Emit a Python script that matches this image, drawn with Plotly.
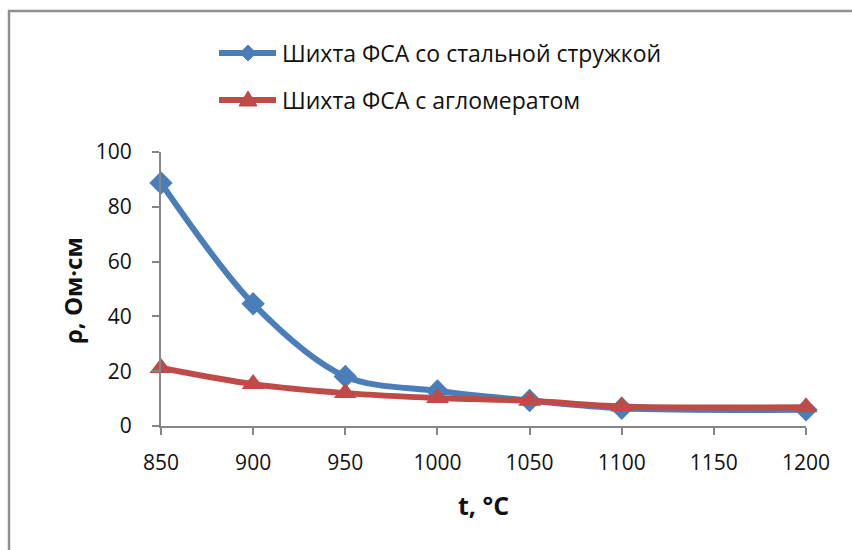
import plotly.graph_objects as go

# Temperature, °C
temperature = [850, 900, 950, 1000, 1050, 1100, 1200]
# Resistivity, Ohm·cm
rho_steel_chips = [88.7, 44.6, 18.1, 12.8, 9.3, 6.5, 5.9]
rho_agglomerate = [21.2, 15.3, 12.0, 10.2, 9.2, 7.1, 6.8]

series_names = ["Шихта ФСА со стальной стружкой", "Шихта ФСА с агломератом"]
x_ticks = [850, 900, 950, 1000, 1050, 1100, 1150, 1200]
y_ticks = [0, 20, 40, 60, 80, 100]

BLUE = "#4A7EBB"
RED = "#BE4B48"
AXIS = "#868686"
FONT = "Open Sans"

W, H = 852, 550
ML, MR, MT, MB = 161, 46, 152, 124
PW, PH = W - ML - MR, H - MT - MB


def px_x(p):
    return (p - ML) / PW


def px_y(p):
    return (H - MB - p) / PH


fig = go.Figure()
fig.add_trace(go.Scatter(
    x=temperature, y=rho_steel_chips, name=series_names[0],
    mode="lines+markers", line=dict(color=BLUE, width=6, shape="spline", smoothing=0.9),
    marker=dict(symbol="diamond", size=18, color=BLUE),
    cliponaxis=False, showlegend=False))
fig.add_trace(go.Scatter(
    x=temperature, y=rho_agglomerate, name=series_names[1],
    mode="lines+markers", line=dict(color=RED, width=6, shape="spline", smoothing=0.9),
    marker=dict(symbol="triangle-up", size=20, color=RED),
    cliponaxis=False, showlegend=False))

shapes = []
annotations = []

# outer chart frame
shapes.append(dict(type="rect", xref="paper", yref="paper",
                   x0=px_x(9), x1=px_x(W + 20), y0=px_y(H + 20), y1=px_y(11),
                   line=dict(color="#8f8f8f", width=2.5), layer="below"))

# legend: line samples, marker glyphs and labels
legend_rows = [(53, BLUE, "M-8,0 L0,-8 L8,0 L0,8 Z"), (100, RED, "M-9,-6 L0,9 L9,-6 Z")]
for (yy, col, glyph), name in zip(legend_rows, series_names):
    shapes.append(dict(type="line", xref="paper", yref="paper",
                       x0=px_x(219), x1=px_x(276), y0=px_y(yy), y1=px_y(yy),
                       line=dict(color=col, width=6)))
    shapes.append(dict(type="path", xref="paper", yref="paper",
                       xsizemode="pixel", ysizemode="pixel",
                       xanchor=px_x(248), yanchor=px_y(yy),
                       path=glyph, fillcolor=col, line=dict(color=col, width=1)))
    annotations.append(dict(xref="paper", yref="paper", x=px_x(280), y=px_y(yy),
                            xanchor="left", yanchor="middle", showarrow=False,
                            text=name, font=dict(family=FONT, size=23, color="#111111")))

# axis titles
annotations.append(dict(xref="paper", yref="paper", x=px_x(72), y=px_y(290),
                        xanchor="center", yanchor="middle", showarrow=False, textangle=-90,
                        text="<b>ρ, Ом·см</b>", font=dict(family=FONT, size=24, color="#111111")))
annotations.append(dict(xref="paper", yref="paper", x=px_x(483), y=px_y(505),
                        xanchor="center", yanchor="middle", showarrow=False,
                        text="<b>t, °C</b>", font=dict(family=FONT, size=25, color="#111111")))

fig.update_layout(
    width=W, height=H,
    margin=dict(l=ML, r=MR, t=MT, b=MB),
    paper_bgcolor="white", plot_bgcolor="white",
    shapes=shapes, annotations=annotations,
    xaxis=dict(range=[850, 1200], tickvals=x_ticks, showgrid=False, zeroline=False,
               showline=True, linecolor=AXIS, linewidth=2,
               ticks="outside", ticklen=7, tickwidth=2, tickcolor=AXIS,
               ticklabelstandoff=10,
               tickfont=dict(family=FONT, size=21, color="#111111")),
    yaxis=dict(range=[0, 100], tickvals=y_ticks, showgrid=False, zeroline=False,
               showline=True, linecolor=AXIS, linewidth=2,
               ticks="outside", ticklen=7, tickwidth=2, tickcolor=AXIS,
               ticklabelstandoff=16,
               tickfont=dict(family=FONT, size=21, color="#111111")),
    showlegend=False,
)

fig.write_html("out.html")
